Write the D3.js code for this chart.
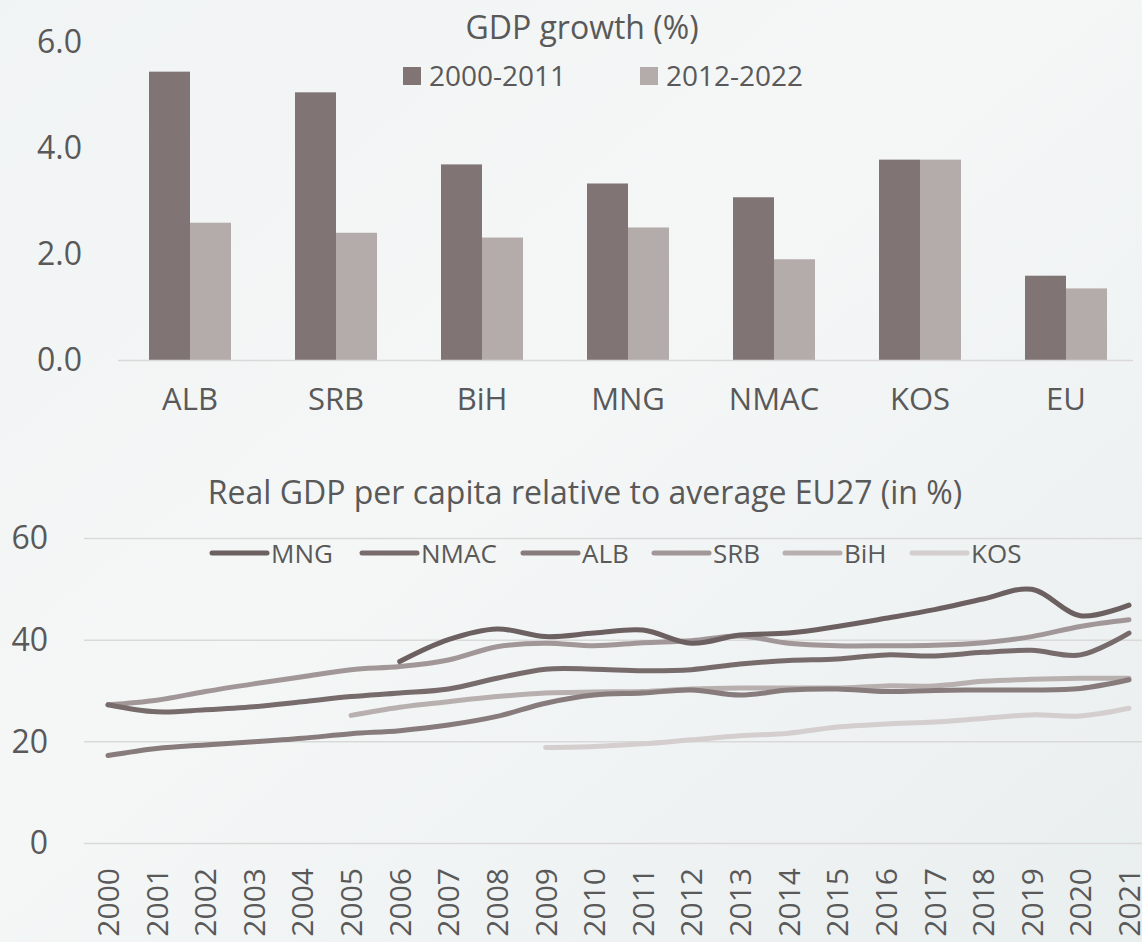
<!DOCTYPE html>
<html>
<head>
<meta charset="utf-8">
<script src="https://cdn.jsdelivr.net/npm/d3@7"></script>
<style>
  html, body { margin: 0; padding: 0; }
  body { width: 1142px; height: 942px; overflow: hidden; }
  #wrapper svg { display: block; }
  text { font-family: "Open Sans", "Noto Sans", sans-serif; fill: #595959; }
</style>
</head>
<body>
<div id="wrapper"></div>
<script>
// --- bar chart data: GDP growth (%)
const countries = ["ALB", "SRB", "BiH", "MNG", "NMAC", "KOS", "EU"]
const periods = ["2000-2011", "2012-2022"]
const growth2000 = [5.45, 5.06, 3.70, 3.34, 3.08, 3.79, 1.60]
const growth2012 = [2.60, 2.41, 2.32, 2.51, 1.91, 3.79, 1.36]
const barTicks = [0, 2, 4, 6]

// --- line chart data: real GDP per capita relative to EU27 (%)
const years = d3.range(2000, 2022)
const seriesNames = ["MNG", "NMAC", "ALB", "SRB", "BiH", "KOS"]
const mng = [null, null, null, null, null, null, 35.8, 40.1, 42.2, 40.7, 41.4, 42.0, 39.4, 41.0, 41.4, 42.7, 44.3, 46.0, 48.1, 50.0, 44.8, 46.9]
const nmac = [27.3, 25.9, 26.3, 26.9, 27.9, 28.9, 29.6, 30.4, 32.5, 34.3, 34.3, 34.0, 34.2, 35.3, 36.0, 36.3, 37.1, 36.9, 37.6, 38.0, 37.1, 41.4]
const alb = [17.3, 18.7, 19.4, 20.0, 20.7, 21.6, 22.2, 23.3, 25.0, 27.6, 29.2, 29.6, 30.2, 29.2, 30.2, 30.4, 29.9, 30.1, 30.2, 30.2, 30.5, 32.2]
const srb = [27.3, 28.2, 29.9, 31.4, 32.8, 34.2, 34.8, 36.1, 38.7, 39.4, 38.9, 39.5, 39.9, 40.8, 39.4, 38.9, 38.9, 39.0, 39.5, 40.7, 42.7, 44.0]
const bih = [null, null, null, null, null, 25.2, 26.8, 27.9, 28.9, 29.6, 29.8, 29.9, 30.4, 30.6, 30.6, 30.6, 31.0, 31.0, 31.9, 32.3, 32.5, 32.5]
const kos = [null, null, null, null, null, null, null, null, null, 18.9, 19.1, 19.6, 20.4, 21.2, 21.7, 22.9, 23.5, 23.9, 24.6, 25.3, 25.1, 26.6]
const lineTicks = [0, 20, 40, 60]

const barColors = ["#807474", "#b4abab"]
const lineColors = ["#6c6061", "#776b6c", "#877b7c", "#a29798", "#b8afaf", "#d4cece"]
const textColor = "#595959"
const gridColor = "#d9d9d9"

const width = 1142
const height = 942

const svg = d3.select("#wrapper")
  .append("svg")
    .attr("width", width)
    .attr("height", height)

// faded photo-like background
const defs = svg.append("defs")
const bgGrad = defs.append("linearGradient")
    .attr("id", "bg")
    .attr("x1", 0).attr("y1", 0).attr("x2", 1).attr("y2", 1)
bgGrad.append("stop").attr("offset", "0%").attr("stop-color", "#f1f4f4")
bgGrad.append("stop").attr("offset", "45%").attr("stop-color", "#f5f7f7")
bgGrad.append("stop").attr("offset", "100%").attr("stop-color", "#e9eeee")
svg.append("rect")
    .attr("width", width)
    .attr("height", height)
    .attr("fill", "url(#bg)")

// ================= bar chart =================
const barY = d3.scaleLinear()
  .domain([0, 6])
  .range([360.5, 42.5])

const barX = d3.scaleBand()
  .domain(countries)
  .range([117, 1139])
  .paddingInner(0.4384)
  .paddingOuter(0.2192)

const barSub = d3.scaleBand()
  .domain(periods)
  .range([0, barX.bandwidth()])

const barAxisY = d3.axisLeft(barY)
  .tickValues(barTicks)
  .tickFormat(d3.format(".1f"))
  .tickSize(0)
  .tickPadding(0)

const barYAxis = svg.append("g")
    .attr("transform", "translate(82,0)")
    .call(barAxisY)
barYAxis.select(".domain").remove()
barYAxis.selectAll("text")
    .attr("font-size", 32)
    .attr("fill", textColor)
    .attr("font-family", null)

const barSeries = [growth2000, growth2012]
const groups = svg.append("g").selectAll("g")
  .data(periods)
  .join("g")
    .attr("fill", (d, i) => barColors[i])

groups.selectAll("rect")
  .data((p, i) => countries.map((c, j) => ({ c, p, v: barSeries[i][j] })))
  .join("rect")
    .attr("x", d => barX(d.c) + barSub(d.p))
    .attr("y", d => barY(d.v))
    .attr("width", barSub.bandwidth())
    .attr("height", d => barY(0) - barY(d.v))

svg.append("line")
    .attr("x1", 118)
    .attr("x2", 1133)
    .attr("y1", barY(0))
    .attr("y2", barY(0))
    .attr("stroke", gridColor)
    .attr("stroke-width", 1.5)

const barAxisX = d3.axisBottom(barX).tickSize(0).tickPadding(0)
const barXAxis = svg.append("g")
    .attr("transform", "translate(0,388)")
    .call(barAxisX)
barXAxis.select(".domain").remove()
barXAxis.selectAll("text")
    .attr("font-size", 31)
    .attr("fill", textColor)
    .attr("font-family", null)

svg.append("text")
    .attr("x", 582)
    .attr("y", 39)
    .attr("text-anchor", "middle")
    .attr("font-size", 32)
    .text("GDP growth (%)")

const barLegend = svg.append("g")
const barLegendX = [403, 640]
periods.forEach((p, i) => {
  barLegend.append("rect")
      .attr("x", barLegendX[i])
      .attr("y", 67)
      .attr("width", 18)
      .attr("height", 18)
      .attr("fill", barColors[i])
  barLegend.append("text")
      .attr("x", barLegendX[i] + 26)
      .attr("y", 86)
      .attr("font-size", 28)
      .text(p)
})

// ================= line chart =================
const lineY = d3.scaleLinear()
  .domain([0, 60])
  .range([843.5, 538.5])

const lineX = d3.scalePoint()
  .domain(years)
  .range([108, 1129])

svg.append("g").selectAll("line")
  .data(lineTicks)
  .join("line")
    .attr("x1", 84)
    .attr("x2", 1142)
    .attr("y1", d => lineY(d))
    .attr("y2", d => lineY(d))
    .attr("stroke", gridColor)
    .attr("stroke-width", 1.5)

const lineAxisY = d3.axisLeft(lineY)
  .tickValues(lineTicks)
  .tickSize(0)
  .tickPadding(0)
const lineYAxis = svg.append("g")
    .attr("transform", "translate(48,0)")
    .call(lineAxisY)
lineYAxis.select(".domain").remove()
lineYAxis.selectAll("text")
    .attr("font-size", 32)
    .attr("fill", textColor)
    .attr("font-family", null)

const lineAxisX = d3.axisBottom(lineX)
  .tickSize(0)
  .tickPadding(0)
  .tickFormat(d3.format("d"))
const lineXAxis = svg.append("g")
    .attr("transform", "translate(0,868)")
    .call(lineAxisX)
lineXAxis.select(".domain").remove()
lineXAxis.selectAll("text")
    .attr("font-size", 30)
    .attr("fill", textColor)
    .attr("font-family", null)
    .attr("text-anchor", "end")
    .attr("dy", "0.35em")
    .attr("transform", "rotate(-90)")

svg.append("text")
    .attr("x", 585)
    .attr("y", 504)
    .attr("text-anchor", "middle")
    .attr("font-size", 32)
    .text("Real GDP per capita relative to average EU27 (in %)")

const allSeries = [mng, nmac, alb, srb, bih, kos]
const lineGen = d3.line()
  .x(d => lineX(d.year))
  .y(d => lineY(d.v))
  .curve(d3.curveCatmullRom.alpha(0.5))

// lightest series drawn first so darker ones sit on top
const order = [5, 4, 3, 2, 1, 0]
svg.append("g").selectAll("path")
  .data(order)
  .join("path")
    .attr("d", i => lineGen(years.map((y, k) => ({ year: y, v: allSeries[i][k] })).filter(d => d.v !== null)))
    .attr("fill", "none")
    .attr("stroke", i => lineColors[i])
    .attr("stroke-width", 5)
    .attr("stroke-linecap", "round")
    .attr("stroke-linejoin", "round")

const lineLegend = svg.append("g")
const lineLegendX = [212, 362, 523, 654, 785, 912]
seriesNames.forEach((name, i) => {
  lineLegend.append("line")
      .attr("x1", lineLegendX[i])
      .attr("x2", lineLegendX[i] + 55)
      .attr("y1", 553)
      .attr("y2", 553)
      .attr("stroke", lineColors[i])
      .attr("stroke-width", 5)
      .attr("stroke-linecap", "round")
  lineLegend.append("text")
      .attr("x", lineLegendX[i] + 59)
      .attr("y", 563)
      .attr("font-size", 26)
      .text(name)
})
</script>
</body>
</html>
